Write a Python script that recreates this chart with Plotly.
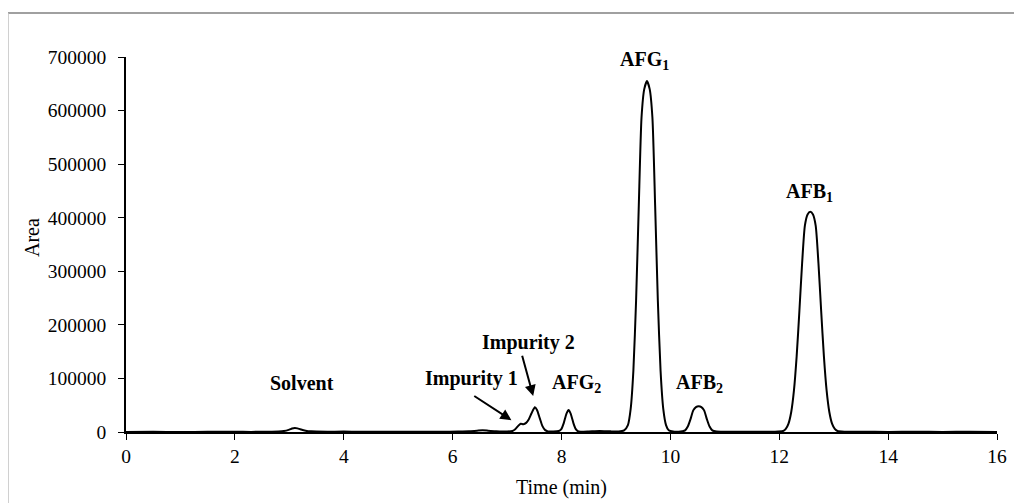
import plotly.graph_objects as go

# Chromatogram trace (time in min, area)
time_min = [
    0.0, 0.5, 1.0, 1.5, 2.0, 2.3, 2.6, 2.8, 2.9, 3.0, 3.05, 3.1, 3.15, 3.2, 3.3, 3.4, 3.5, 3.7, 4.0, 4.3,
    4.6, 5.0, 5.4, 5.8, 6.1, 6.3, 6.45, 6.55, 6.65, 6.8, 7.0, 7.1, 7.15, 7.2, 7.25, 7.3, 7.35, 7.4,
    7.45, 7.51, 7.55, 7.6, 7.65, 7.7, 7.75, 7.85, 7.95, 8.0, 8.04, 8.09, 8.13, 8.17, 8.22, 8.26,
    8.31, 8.36, 8.5, 8.7, 8.9, 9.05, 9.15, 9.22, 9.27, 9.32, 9.37, 9.42, 9.47, 9.52, 9.57, 9.62,
    9.67, 9.72, 9.77, 9.82, 9.87, 9.92, 9.97, 10.05, 10.15, 10.22, 10.27, 10.32, 10.37, 10.42,
    10.47, 10.52, 10.57, 10.62, 10.67, 10.72, 10.77, 10.85, 11.0, 11.3, 11.6, 11.9, 12.07, 12.12,
    12.17, 12.22, 12.27, 12.32, 12.37, 12.42, 12.47, 12.52, 12.57, 12.62, 12.67, 12.72, 12.77,
    12.82, 12.87, 12.92, 12.97, 13.02, 13.07, 13.2, 13.5, 14.0, 14.5, 15.0, 15.5, 16.0,
]
area = [
    0, 300, 0, 400, 600, 200, 500, 900, 1800, 4500, 6500, 7500, 6800, 5200, 2500, 1200, 800, 500, 900, 400,
    300, 500, 300, 600, 800, 1200, 2500, 3200, 2500, 1200, 1000, 2000, 5000, 11000, 15500, 14500, 17000, 24000,
    35000, 46000, 41000, 26000, 11000, 3500, 1200, 800, 1800, 5900, 16200, 34000, 41000, 34000, 16200, 5900,
    1000, 500, 1000, 2000, 1200, 1000, 3000, 12900, 42700, 114000, 245000, 423000, 587000, 640000, 655000, 640000,
    587000, 423000, 245000, 114000, 42700, 12900, 3100, 800, 600, 1500, 3000, 10100, 24000, 40400,
    46500, 48000, 46500, 40400, 24000, 10100, 3000, 800, 500, 600, 400, 600, 1900, 5800,
    15700, 37400, 77600, 141600, 225800, 315000, 384600, 406000, 411000, 406000, 384600, 315000, 225800,
    141600, 77600, 37400, 15700, 5800, 1900, 500, 300, 200, 300, 200, 300, 200,
]

x_ticks = [0, 2, 4, 6, 8, 10, 12, 14, 16]
y_ticks = [0, 100000, 200000, 300000, 400000, 500000, 600000, 700000]

# Peak labels: text, x (min), y (area)
label_text = ["Solvent", "Impurity 1", "Impurity 2", "AFG<sub>2</sub>", "AFG<sub>1</sub>", "AFB<sub>2</sub>", "AFB<sub>1</sub>"]
label_x = [3.23, 6.35, 7.40, 8.28, 9.52, 10.53, 12.55]
label_y = [91000, 99000, 168000, 91000, 694000, 91000, 448000]

# Arrows: head (x, y) and tail (x, y)
arrow_head_x = [7.08, 7.48]
arrow_head_y = [22000, 67000]
arrow_tail_x = [6.37, 7.27]
arrow_tail_y = [69000, 145000]

FONT = "Liberation Serif, Times New Roman, serif"

# figure geometry (page has an 8 px offset)
W, H = 1014, 495
L, R, T, B = 118, 25, 49, 71
PW, PH = W - L - R, H - T - B


def px(xp):
    return (xp - 8 - L) / PW


def py(yp):
    return (H - B - (yp - 8)) / PH


fig = go.Figure()
fig.add_trace(go.Scatter(
    x=time_min, y=area, mode="lines",
    line=dict(color="black", width=2, shape="spline", smoothing=0.6),
    hoverinfo="skip", showlegend=False,
))

annotations = []
for t, x, y in zip(label_text, label_x, label_y):
    annotations.append(dict(
        x=x, y=y, xref="x", yref="y", text="<b>" + t + "</b>", showarrow=False,
        xanchor="center", yanchor="middle",
        font=dict(family=FONT, size=20, color="black"),
    ))
for hx, hy, tx, ty in zip(arrow_head_x, arrow_head_y, arrow_tail_x, arrow_tail_y):
    annotations.append(dict(
        x=hx, y=hy, xref="x", yref="y", ax=tx, ay=ty, axref="x", ayref="y",
        text="", showarrow=True, arrowhead=2, arrowsize=1.1, arrowwidth=2, arrowcolor="black",
    ))
# axis titles
annotations.append(dict(
    x=px(561.5), y=py(487), xref="paper", yref="paper", xanchor="center", yanchor="middle",
    text="Time (min)", showarrow=False, font=dict(family=FONT, size=20, color="black"),
))
annotations.append(dict(
    x=px(32), y=py(238), xref="paper", yref="paper", xanchor="center", yanchor="middle",
    text="Area", showarrow=False, textangle=-90, font=dict(family=FONT, size=20, color="black"),
))

shapes = [
    dict(type="line", xref="paper", yref="paper",
         x0=px(8), x1=px(1022), y0=py(13), y1=py(13),
         line=dict(color="#808080", width=1.5)),
    dict(type="line", xref="paper", yref="paper",
         x0=px(8), x1=px(8), y0=py(13), y1=py(503),
         line=dict(color="#c0c0c0", width=1.5)),
]

fig.update_layout(
    width=W, height=H,
    margin=dict(l=L, r=R, t=T, b=B),
    paper_bgcolor="white", plot_bgcolor="white",
    font=dict(family=FONT, size=20, color="black"),
    annotations=annotations, shapes=shapes,
    xaxis=dict(
        range=[0, 16], tickvals=x_ticks, ticktext=[str(v) for v in x_ticks],
        showgrid=False, zeroline=False, showline=True, linecolor="black", linewidth=1.5,
        ticks="outside", ticklen=6, tickwidth=1.2, tickcolor="black",
        tickfont=dict(family=FONT, size=19.5, color="black"),
    ),
    yaxis=dict(
        range=[0, 700000], tickvals=y_ticks, ticktext=[str(v) for v in y_ticks],
        showgrid=False, zeroline=False, showline=True, linecolor="black", linewidth=1.5,
        ticks="outside", ticklen=6, tickwidth=1.2, tickcolor="black",
        tickfont=dict(family=FONT, size=19.5, color="black"), ticklabelstandoff=8,
    ),
)

fig.write_html("out.html")
